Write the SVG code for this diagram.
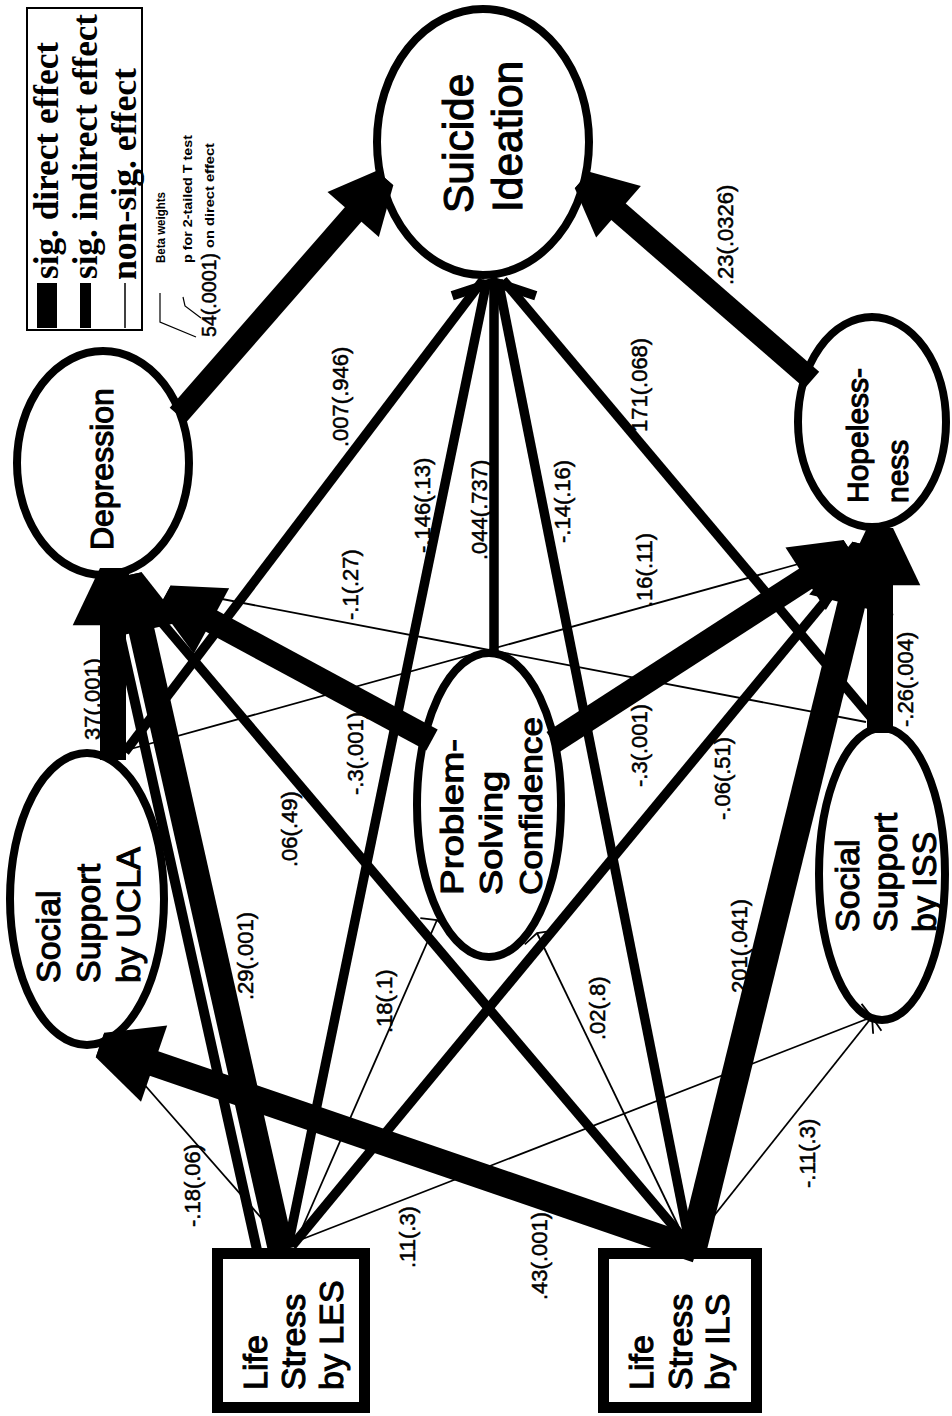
<svg xmlns="http://www.w3.org/2000/svg" width="952" height="1416" viewBox="0 0 952 1416">
<style>
text{font-family:"Liberation Sans",Arial,sans-serif;fill:#000}
.nt{font-size:34px}
.ntx{stroke:#000;stroke-width:1.1px}
.lb text{stroke:#000;stroke-width:0.5px}
.lb{font-size:22px}
.lg{font-family:"Liberation Serif","Times New Roman",serif;font-size:36px;font-weight:bold}
.sm{font-size:12.5px;font-weight:bold}
.node{fill:#fff;stroke:#000;stroke-width:8}
.box{fill:#fff;stroke:#000;stroke-width:11}
.c line{stroke:#000;fill:none}
.m{stroke-width:9.5}
.s{stroke-width:1.8}
</style>
<defs>
<marker id="ah" viewBox="-2.4 -1.8 2.6 3.6" refX="0" refY="0" markerWidth="2.6" markerHeight="3.6" orient="auto" markerUnits="strokeWidth" overflow="visible"><path d="M-2.2,-1.55 L0,-0.5 L0,0.5 L-2.2,1.55 Z" fill="#000"/></marker>
<marker id="av" viewBox="-2 -5 2.6 10" refX="0" refY="0" markerWidth="2.6" markerHeight="10" orient="auto" markerUnits="strokeWidth" overflow="visible"><path d="M-1.45,-4.4 L0,0 L-1.45,4.4" fill="none" stroke="#000" stroke-width="1"/></marker>
<marker id="at" viewBox="-8 -20 12 40" refX="0" refY="0" markerWidth="12" markerHeight="40" orient="auto" markerUnits="userSpaceOnUse" overflow="visible"><path d="M-5,-16 L0,0 L-5,16" fill="none" stroke="#000" stroke-width="1.8"/></marker>
</defs>
<rect width="952" height="1416" fill="#fff"/>

<g id="legend">
<rect x="27" y="8" width="115" height="322" fill="#fff" stroke="#000" stroke-width="2"/>
<rect x="37" y="283" width="20" height="45" fill="#000"/>
<rect x="80" y="283" width="11" height="45" fill="#000"/>
<line x1="125" y1="283" x2="125" y2="328" stroke="#000" stroke-width="1.5"/>
<text class="lg" transform="translate(58 279) rotate(-90)" textLength="237" lengthAdjust="spacingAndGlyphs">sig. direct effect</text>
<text class="lg" transform="translate(97 279) rotate(-90)" textLength="265" lengthAdjust="spacingAndGlyphs">sig. indirect effect</text>
<text class="lg" transform="translate(136 280) rotate(-90)" textLength="212" lengthAdjust="spacingAndGlyphs">non-sig. effect</text>
<text class="sm" transform="translate(165 263) rotate(-90)" textLength="71" lengthAdjust="spacingAndGlyphs">Beta weights</text>
<text class="sm" transform="translate(192 263) rotate(-90)" textLength="128" lengthAdjust="spacingAndGlyphs">p for 2-tailed T test</text>
<text style="font-size:20px;stroke:#000;stroke-width:0.5px" transform="translate(216 337) rotate(-90)" textLength="84" lengthAdjust="spacingAndGlyphs">54(.0001)</text>
<text class="sm" transform="translate(214 248) rotate(-90)" textLength="105" lengthAdjust="spacingAndGlyphs">on direct effect</text>
<polyline points="160,293 160,322 196,337" fill="none" stroke="#000" stroke-width="1.2"/>
<polyline points="183,297 185,306 201,318" fill="none" stroke="#000" stroke-width="1.2"/>
</g>

<g id="suicide">
<ellipse class="node" cx="483" cy="142" rx="106" ry="133"/>
<text class="ntx" style="font-size:42.5px" transform="translate(473 213) rotate(-90)">Suicide</text>
<text class="ntx" style="font-size:42.5px" transform="translate(522 212) rotate(-90)">Ideation</text>
</g>
<g id="depression">
<ellipse class="node" cx="103" cy="463" rx="86" ry="112"/>
<text class="ntx" style="font-size:32px" transform="translate(113 550) rotate(-90)">Depression</text>
</g>
<g id="hopelessness">
<ellipse class="node" cx="872" cy="422" rx="74" ry="105"/>
<text class="ntx" style="font-size:30px" transform="translate(868 503) rotate(-90)">Hopeless-</text>
<text class="ntx" style="font-size:30px" transform="translate(908 503) rotate(-90)">ness</text>
</g>
<g id="ucla">
<ellipse class="node" cx="87" cy="899" rx="77" ry="146"/>
<text class="nt ntx" transform="translate(60 983) rotate(-90)">Social</text>
<text class="nt ntx" transform="translate(100 983) rotate(-90)">Support</text>
<text class="nt ntx" transform="translate(140 983) rotate(-90)">by UCLA</text>
</g>
<g id="problem-solving">
<ellipse class="node" cx="489" cy="805" rx="72" ry="152"/>
<text class="ntx" style="font-size:32px" transform="translate(463 895) rotate(-90)" textLength="156" lengthAdjust="spacingAndGlyphs">Problem-</text>
<text class="ntx" style="font-size:32px" transform="translate(502 895) rotate(-90)" textLength="124" lengthAdjust="spacingAndGlyphs">Solving</text>
<text class="ntx" style="font-size:32px" transform="translate(542 895) rotate(-90)" textLength="178" lengthAdjust="spacingAndGlyphs">Confidence</text>
</g>
<g id="iss">
<ellipse class="node" cx="882" cy="874" rx="63" ry="146"/>
<text class="nt ntx" transform="translate(859 932) rotate(-90)">Social</text>
<text class="nt ntx" transform="translate(897 932) rotate(-90)">Support</text>
<text class="nt ntx" transform="translate(936 932) rotate(-90)">by ISS</text>
</g>
<g id="les">
<rect class="box" x="217.5" y="1253.5" width="147" height="154"/>
<text class="nt ntx" transform="translate(267 1390) rotate(-90)">Life</text>
<text class="nt ntx" transform="translate(305 1390) rotate(-90)">Stress</text>
<text class="nt ntx" transform="translate(343 1390) rotate(-90)">by LES</text>
</g>
<g id="ils">
<rect class="box" x="603.5" y="1253.5" width="153" height="154"/>
<text class="nt ntx" transform="translate(653 1390) rotate(-90)">Life</text>
<text class="nt ntx" transform="translate(692 1390) rotate(-90)">Stress</text>
<text class="nt ntx" transform="translate(729 1390) rotate(-90)">by ILS</text>
</g>

<g id="connectors" class="c">
<g class="lb">
<text transform="translate(733 285) rotate(-90)">.23(.0326)</text>
<text transform="translate(348 447) rotate(-90)">.007(.946)</text>
<text transform="translate(430 553) rotate(-90)">-.146(.13)</text>
<text transform="translate(487 560) rotate(-90)">.044(.737)</text>
<text transform="translate(570 543) rotate(-90)">-.14(.16)</text>
<text transform="translate(647 432) rotate(-90)">171(.068)</text>
<text transform="translate(100 740) rotate(-90)">37(.001)</text>
<text transform="translate(253 1000) rotate(-90)">.29(.001)</text>
<text transform="translate(297 867) rotate(-90)">.06(.49)</text>
<text transform="translate(363 795) rotate(-90)">-.3(.001)</text>
<text transform="translate(358 620) rotate(-90)">-.1(.27)</text>
<text transform="translate(200 1227) rotate(-90)">-.18(.06)</text>
<text transform="translate(547 1300) rotate(-90)">.43(.001)</text>
<text transform="translate(392 1033) rotate(-90)">.18(.1)</text>
<text transform="translate(605 1040) rotate(-90)">.02(.8)</text>
<text transform="translate(415 1268) rotate(-90)">.11(.3)</text>
<text transform="translate(815 1188) rotate(-90)">-.11(.3)</text>
<text transform="translate(652 607) rotate(-90)">.16(.11)</text>
<text transform="translate(647 787) rotate(-90)">-.3(.001)</text>
<text transform="translate(913 727) rotate(-90)">-.26(.004)</text>
<text transform="translate(747 993) rotate(-90)">201(.041)</text>
<text transform="translate(730 820) rotate(-90)">-.06(.51)</text>
</g>
<!-- thin -->
<line class="s" x1="866" y1="722" x2="175" y2="590"/>
<line class="s" x1="285" y1="1245" x2="143" y2="1083"/>
<line class="s" x1="296" y1="1242" x2="437" y2="920" marker-end="url(#at)"/>
<line class="s" x1="688" y1="1246" x2="537" y2="933" marker-end="url(#at)"/>
<line class="s" x1="300" y1="1240" x2="872" y2="1017" marker-end="url(#at)"/>
<line class="s" x1="690" y1="1246" x2="872" y2="1017" marker-end="url(#at)"/>
<line class="s" x1="127" y1="750" x2="820" y2="558"/>
<!-- medium -->
<line class="m" x1="125" y1="752" x2="483" y2="280"/>
<line class="m" x1="288" y1="1246" x2="487" y2="280"/>
<line class="m" x1="494" y1="655" x2="494" y2="282" marker-end="url(#av)"/>
<line class="m" x1="690" y1="1246" x2="498" y2="280"/>
<line class="m" x1="880" y1="728" x2="503" y2="280"/>
<line class="m" x1="690" y1="1246" x2="147" y2="605" marker-end="url(#ah)"/>
<line class="m" x1="292" y1="1246" x2="855" y2="565" marker-end="url(#ah)"/>
<line x1="257" y1="1250" x2="110" y2="590" stroke-width="10"/>
<!-- thick -->
<line x1="178" y1="415" x2="385" y2="178" stroke-width="22" marker-end="url(#ah)"/>
<line x1="812" y1="380" x2="582" y2="180" stroke-width="22" marker-end="url(#ah)"/>
<line x1="113" y1="760" x2="113" y2="568" stroke-width="26" marker-end="url(#ah)"/>
<line x1="281" y1="1250" x2="129" y2="575" stroke-width="26" marker-end="url(#ah)"/>
<line x1="432" y1="740" x2="165" y2="596" stroke-width="24" marker-end="url(#ah)"/>
<line x1="697" y1="1250" x2="100" y2="1045" stroke-width="26" marker-end="url(#ah)"/>
<line x1="553" y1="742" x2="850" y2="550" stroke-width="24" marker-end="url(#ah)"/>
<line x1="880" y1="733" x2="880" y2="528" stroke-width="26" marker-end="url(#ah)"/>
<line x1="693" y1="1248" x2="866" y2="545" stroke-width="28" marker-end="url(#ah)"/>
</g>
</svg>
